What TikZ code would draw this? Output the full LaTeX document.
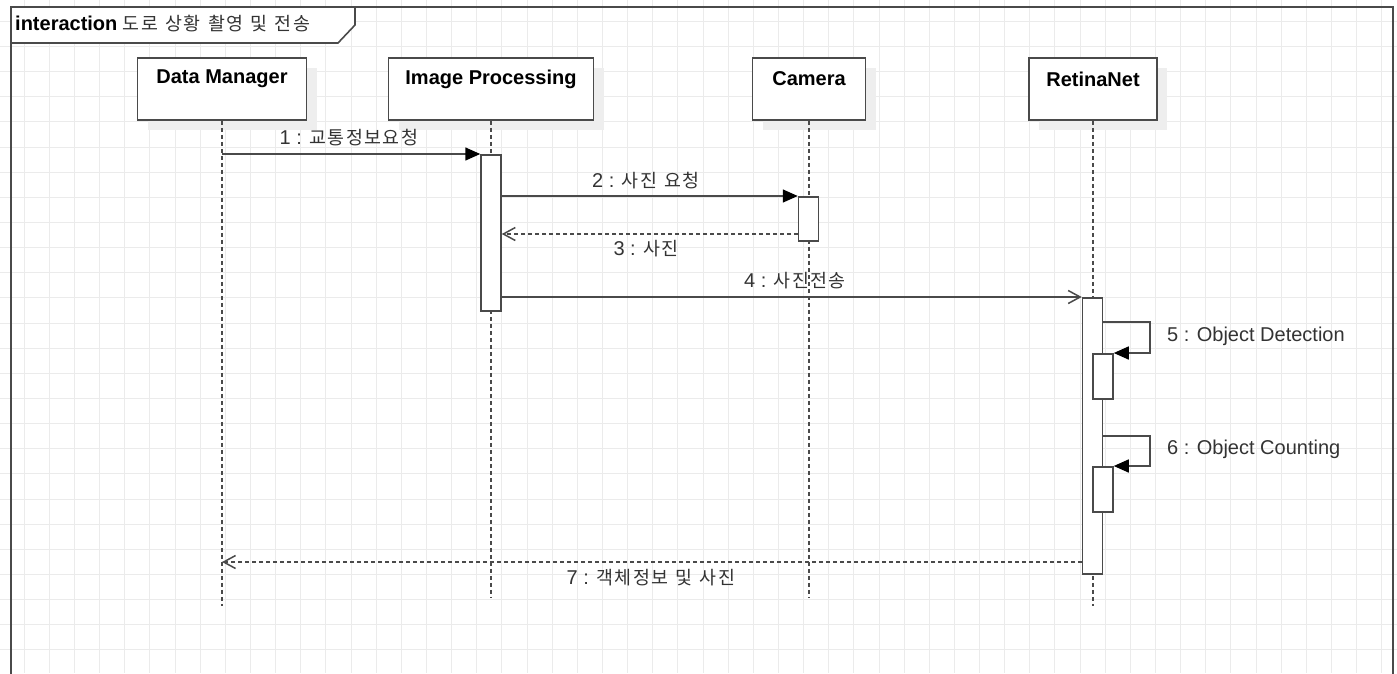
\documentclass[tikz,border=0pt]{standalone}
\usepackage{fontspec}
\setmainfont{Liberation Sans}
\newfontfamily\kr[Scale=0.92, LetterSpace=8, WordSpace=1.3]{Noto Sans CJK KR}
\usetikzlibrary{arrows.meta}
\definecolor{gridc}{HTML}{EBEBEB}
\definecolor{linec}{HTML}{4A4A4A}
\definecolor{textc}{HTML}{333333}
\definecolor{shadowc}{HTML}{EEEEEE}
\begin{document}
\begin{tikzpicture}[x=1pt,y=-1pt,
  gridline/.style={gridc, line width=1pt},
  frameline/.style={linec, line width=1.6pt},
  headbox/.style={draw=linec, line width=1.5pt, fill=white, minimum height=62pt, inner sep=0pt},
  shadowbox/.style={fill=shadowc, minimum height=62pt, inner sep=0pt},
  headtext/.style={font=\bfseries\fontsize{20}{24}\selectfont, inner sep=0pt},
  life/.style={linec, line width=1.5pt, dash pattern=on 4pt off 3pt},
  act/.style={draw=linec, line width=1.5pt, fill=white, minimum width=20pt, inner sep=0pt, anchor=north},
  call/.style={linec, line width=1.5pt, -{Triangle[length=15pt,width=13pt,color=black]}},
  async/.style={linec, line width=1.5pt, -{Straight Barb[length=12pt,width=13pt]}},
  ret/.style={linec, line width=1.5pt, dash pattern=on 4pt off 3pt, -{Straight Barb[length=12pt,width=13pt]}},
  msgtext/.style={textc, font=\fontsize{20}{24}\selectfont, inner sep=0pt},
]
\useasboundingbox (0,0) rectangle (1397,673);
\clip (0,0) rectangle (1397,673);
% grid
\foreach \i in {0,...,56} {\draw[gridline] ({-0.9+25.14*\i},0) -- ({-0.9+25.14*\i},673);}
\foreach \j in {0,...,27} {\draw[gridline] (0,{-3.8+25.14*\j}) -- (1397,{-3.8+25.14*\j});}
% frame
\draw[frameline] (11,7) rectangle (1393,700);
\draw[frameline, fill=white] (11,7) -- (355,7) -- (355,25) -- (338,43) -- (11,43) -- cycle;
\node[anchor=west, inner sep=0pt, font=\fontsize{20}{24}\selectfont] (title) at (15,24) {\textbf{interaction} {\color{textc}\kr 도로 상황 촬영 및 전송}};
% lifeline heads
\node[shadowbox, minimum width=169pt] (dmsh) at (232,99) {};
\node[shadowbox, minimum width=205pt] (ipsh) at (501,99) {};
\node[shadowbox, minimum width=113pt] (camsh) at (819,99) {};
\node[shadowbox, minimum width=128pt] (rnsh) at (1103,99) {};
\node[headbox, minimum width=169pt] (dmbox) at (222,89) {};
\node[headbox, minimum width=205pt] (ipbox) at (491,89) {};
\node[headbox, minimum width=113pt] (cambox) at (809,89) {};
\node[headbox, minimum width=128pt] (rnbox) at (1093,89) {};
\node[headtext] (dmt) at (222,79) {Data Manager};
\node[headtext] (ipt) at (491,79) {Image Processing};
\node[headtext] (camt) at (809,79) {Camera};
\node[headtext] (rnt) at (1093,79) {RetinaNet};
% lifelines
\coordinate (dmend) at (222,606);
\coordinate (ipend) at (491,597);
\coordinate (camend) at (809,597);
\coordinate (rnend) at (1093,606);
\draw[life] (dmbox.south) -- (dmend);
\draw[life] (ipbox.south) -- (ipend);
\draw[life] (cambox.south) -- (camend);
\draw[life] (rnbox.south) -- (rnend);
% activations
\node[act, minimum height=156pt] (ipact) at (491,154) {};
\node[act, minimum height=44pt] (camact) at (808.5,196) {};
\node[act, minimum height=276pt] (rnact) at (1092.5,297) {};
\node[act, minimum height=45pt] (n5) at (1103,353) {};
\node[act, minimum height=45pt] (n6) at (1103,466) {};
% messages
\draw[call] (dmbox.south |- ipact.north) -- (ipact.north west);
\node[msgtext] (l1) at (349,138) {1 : {\kr 교통정보요청}};
\draw[call] (ipact.east |- camact.north) -- (camact.north west);
\node[msgtext] (l2) at (646,181) {2 : {\kr 사진 요청}};
\coordinate (m3) at (798,234);
\draw[ret] (m3) -- (ipact.east |- m3);
\node[msgtext] (l3) at (646,249) {3 : {\kr 사진}};
\draw[async] (ipact.east |- rnact.north) -- (rnact.north west);
\node[msgtext] (l4) at (795,281) {4 : {\kr 사진전송}};
\coordinate (s5) at (1103,322);
\draw[call] (s5) -- ++(47,0) |- (n5.north east);
\node[msgtext, anchor=west] (l5) at (1167,336) {5 : Object Detection};
\coordinate (s6) at (1103,436);
\draw[call] (s6) -- ++(47,0) |- (n6.north east);
\node[msgtext, anchor=west] (l6) at (1167,449) {6 : Object Counting};
\coordinate (m7) at (1082,562);
\draw[ret] (m7) -- (dmbox.south |- m7);
\node[msgtext] (l7) at (651,578) {7 : {\kr 객체정보 및 사진}};
\end{tikzpicture}
\end{document}
